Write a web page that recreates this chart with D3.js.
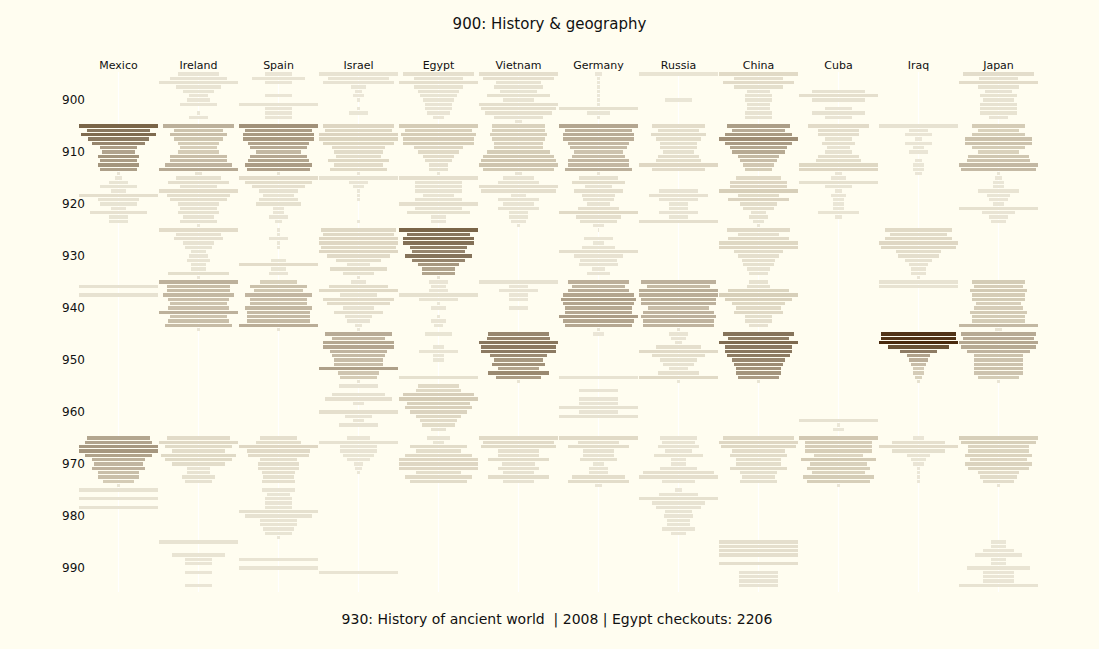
<!DOCTYPE html>
<html>
<head>
<meta charset="utf-8">
<script src="https://cdn.jsdelivr.net/npm/d3@7"></script>
<style>
  html, body { margin: 0; padding: 0; background: #fffdf0; }
  svg { display: block; font-family: "DejaVu Sans", sans-serif; }
</style>
</head>
<body>
<div id="chart"></div>
<script>
// Dewey 900s checkouts per country: each decade block holds 12 years (2006-2017)
const countries = ["Mexico", "Ireland", "Spain", "Israel", "Egypt", "Vietnam",
                   "Germany", "Russia", "China", "Cuba", "Iraq", "Japan"];
const decades = [900, 910, 920, 930, 940, 950, 960, 970, 980, 990];
const decadeNames = ["History & geography", "Geography & travel", "Biography & genealogy",
  "History of ancient world ", "History of Europe", "History of Asia", "History of Africa",
  "History of North America", "History of South America", "History of other areas"];
const years = [2006, 2007, 2008, 2009, 2010, 2011, 2012, 2013, 2014, 2015, 2016, 2017];

// peak checkouts of each decade block (900 ... 990), per country
const peaks = [
  [0, 2430, 150, 0, 100, 0, 0, 1250, 80, 0],        // Mexico
  [100, 950, 200, 200, 850, 0, 0, 280, 0, 80],      // Ireland
  [80, 1350, 200, 200, 900, 0, 0, 300, 120, 60],    // Spain
  [80, 350, 100, 300, 250, 1100, 150, 100, 0, 60],  // Israel
  [150, 500, 150, 2424, 120, 120, 500, 300, 0, 0],  // Egypt
  [150, 600, 150, 0, 100, 2000, 0, 250, 0, 0],      // Vietnam
  [120, 1000, 250, 150, 1150, 80, 100, 250, 0, 0],  // Germany
  [60, 300, 150, 0, 900, 250, 0, 150, 120, 0],      // Russia
  [250, 1400, 450, 300, 450, 2300, 0, 300, 0, 150], // China
  [150, 300, 120, 0, 0, 0, 100, 550, 0, 0],         // Cuba
  [0, 100, 0, 300, 80, 3800, 0, 200, 0, 0],         // Iraq
  [200, 750, 120, 0, 750, 1000, 0, 450, 0, 80]      // Japan
];

// yearly checkouts as % of the block peak (one row of 12 years per decade)
const mexico = [
  [0,0,0,0,0,0,0,0,0,0,0,0],
  [100,81,94,78,66,48,43,53,48,53,46,3],
  [8,25,46,18,100,53,46,18,73,25,25,0],
  [0,0,0,0,0,0,0,0,0,0,0,0],
  [0,100,0,100,0,0,0,0,0,0,0,0],
  [0,0,0,0,0,0,0,0,0,0,0,0],
  [0,0,0,0,0,0,0,0,0,0,0,0],
  [81,84,99,100,86,68,63,66,53,53,40,3],
  [100,0,100,0,100,0,0,0,0,0,0,0],
  [0,0,0,0,0,0,0,0,0,0,0,0]
];
const ireland = [
  [52,71,100,58,40,23,28,46,0,5,23,0],
  [91,63,71,61,53,48,53,71,73,86,100,8],
  [58,76,48,100,81,71,51,48,53,40,48,3],
  [100,56,63,40,33,20,23,30,20,20,78,5],
  [100,81,81,89,76,71,76,100,71,78,84,3],
  [0,0,0,0,0,0,0,0,0,0,0,0],
  [0,0,0,0,0,0,0,0,0,0,0,0],
  [81,100,84,68,94,86,66,30,28,43,35,0],
  [0,0,0,0,0,0,0,0,0,0,0,0],
  [100,0,0,66,33,33,0,33,0,0,33,0]
];
const spain = [
  [33,66,33,0,0,33,0,100,33,33,33,0],
  [100,86,89,89,78,71,56,73,76,86,81,5],
  [100,84,66,49,40,49,58,15,15,24,8,0],
  [5,3,23,3,3,0,0,19,100,19,25,0],
  [48,71,63,86,73,71,84,81,81,81,100,5],
  [0,0,0,0,0,0,0,0,0,0,0,0],
  [0,0,0,0,0,0,0,0,0,0,0,0],
  [48,56,100,81,76,48,53,51,43,40,43,0],
  [43,28,35,35,33,100,84,46,46,38,33,3],
  [0,0,0,0,100,0,100,0,0,0,0,0]
];
const israel = [
  [100,76,89,20,10,13,3,0,3,25,0,0],
  [91,84,100,99,89,66,61,56,78,63,73,3],
  [100,23,13,3,3,3,0,0,0,0,3,0],
  [96,91,100,100,94,100,81,58,30,71,38,3],
  [20,75,100,46,91,81,38,61,35,28,10,5],
  [84,68,89,91,73,66,63,63,100,53,46,3],
  [49,0,66,84,15,0,100,33,15,49,0,0],
  [30,100,48,48,38,30,11,8,5,0,0,0],
  [0,0,0,0,0,0,0,0,0,0,0,0],
  [0,0,0,0,0,0,0,100,0,0,0,0]
];
const egypt = [
  [89,63,100,61,51,46,38,35,35,30,15,0],
  [100,84,96,91,89,61,51,40,33,25,23,3],
  [100,59,59,59,39,59,100,59,80,19,19,0],
  [100,81,91,89,73,66,86,66,51,43,43,3],
  [24,18,24,100,49,5,18,0,5,18,11,0],
  [33,0,0,15,49,15,15,0,0,0,100,0],
  [51,56,91,100,81,84,73,58,46,43,20,0],
  [28,13,71,56,86,100,100,100,56,86,71,0],
  [0,0,0,0,0,0,0,0,0,0,0,0],
  [0,0,0,0,0,0,0,0,0,0,0,0]
];
const vietnam = [
  [100,89,56,63,46,81,40,100,96,86,63,8],
  [66,68,71,68,61,63,81,91,96,100,89,8],
  [40,53,100,94,20,53,40,53,25,25,20,5],
  [0,0,0,0,0,0,0,0,0,0,0,0],
  [100,24,49,24,24,0,24,0,0,0,0,0],
  [78,81,100,94,94,73,61,68,51,76,58,3],
  [0,0,0,0,0,0,0,0,0,0,0,0],
  [100,89,96,53,51,76,43,53,38,78,38,0],
  [0,0,0,0,0,0,0,0,0,0,0,0],
  [0,0,0,0,0,0,0,0,0,0,0,0]
];
const germany = [
  [8,5,5,5,5,3,5,5,100,28,3,0],
  [100,84,91,89,76,71,61,68,76,76,86,3],
  [49,68,35,61,43,40,30,53,100,58,46,13],
  [1,0,37,14,42,100,62,47,49,16,29,0],
  [76,68,78,89,96,89,84,86,100,89,86,3],
  [13,0,0,0,0,0,0,0,0,0,100,0],
  [0,49,0,49,49,100,49,100,0,0,0,0],
  [100,53,78,40,40,46,15,25,25,68,76,10],
  [0,0,0,0,0,0,0,0,0,0,0,0],
  [0,0,0,0,0,0,0,0,0,0,0,0]
];
const russia = [
  [100,0,0,0,0,0,33,0,0,0,0,0],
  [68,51,70,58,46,48,40,53,58,100,66,0],
  [0,0,0,49,75,49,24,24,49,24,100,0],
  [0,0,0,0,0,0,0,0,0,0,0,0],
  [94,81,99,100,96,94,76,91,94,91,91,5],
  [23,20,10,58,99,68,46,40,25,53,100,5],
  [0,0,0,0,0,0,0,0,0,0,0,0],
  [48,43,51,33,61,20,18,48,89,100,43,0],
  [8,49,100,68,58,33,37,30,28,43,18,0],
  [0,0,0,0,0,0,0,0,0,0,0,0]
];
const china = [
  [100,61,89,63,28,35,35,30,28,33,33,0],
  [81,66,86,100,84,71,68,53,48,40,35,0],
  [56,71,71,100,53,78,46,38,20,23,15,3],
  [81,51,76,99,100,61,51,43,38,30,25,0],
  [23,30,76,100,86,66,58,61,35,33,25,0],
  [89,78,100,84,86,81,68,63,58,56,51,3],
  [0,0,0,0,0,0,0,0,0,0,0,0],
  [91,100,96,68,71,56,56,71,46,43,46,0],
  [0,0,0,0,0,0,0,0,0,0,0,0],
  [100,100,100,100,0,100,0,49,49,49,49,0]
];
const cuba = [
  [0,0,0,0,66,100,66,0,33,66,33,0],
  [76,53,53,35,43,28,33,51,56,99,100,8],
  [18,100,33,10,18,13,13,13,51,10,0,0],
  [0,0,0,0,0,0,0,0,0,0,0,0],
  [0,0,0,0,0,0,0,0,0,0,0,0],
  [0,0,0,0,0,0,0,0,0,0,0,0],
  [0,0,0,0,0,0,0,0,100,5,13,0],
  [100,86,86,84,61,94,73,81,68,89,81,5],
  [0,0,0,0,0,0,0,0,0,0,0,0],
  [0,0,0,0,0,0,0,0,0,0,0,0]
];
const iraq = [
  [0,0,0,0,0,0,0,0,0,0,0,0],
  [100,24,33,8,33,15,24,0,8,15,15,8],
  [0,0,0,0,0,0,0,0,0,0,0,0],
  [86,71,86,100,96,58,53,33,25,18,19,3],
  [100,100,0,0,0,0,0,0,0,0,0,0],
  [94,94,100,76,48,28,23,18,13,13,10,3],
  [0,0,0,0,0,0,0,0,0,0,0,0],
  [13,66,100,68,30,20,13,5,3,5,5,0],
  [0,0,0,0,0,0,0,0,0,0,0,0],
  [0,0,0,0,0,0,0,0,0,0,0,0]
];
const japan = [
  [91,49,100,53,35,46,40,48,46,46,23,0],
  [66,53,68,84,84,68,53,76,81,100,96,5],
  [10,13,15,53,28,25,15,100,43,25,18,0],
  [0,0,0,0,0,0,0,0,0,0,0,0],
  [68,63,71,66,68,58,63,71,68,68,100,8],
  [94,91,100,94,81,63,61,61,63,61,51,5],
  [0,0,0,0,0,0,0,0,0,0,0,0],
  [100,96,78,76,84,71,84,76,51,46,40,5],
  [0,0,0,0,0,0,0,0,0,0,0,0],
  [19,19,39,59,19,19,80,39,39,39,100,0]
];
const shares = [mexico, ireland, spain, israel, egypt, vietnam,
                germany, russia, china, cuba, iraq, japan];

// the readout shown under the chart
const picked = { country: "Egypt", decade: 930, year: 2008 };

const width = 1099, height = 649;

const rows = [];
countries.forEach((c, ci) => {
  decades.forEach((d, di) => {
    years.forEach((yr, yi) => {
      const share = shares[ci][di][yi];
      rows.push({
        country: c, decade: d, year: yr, share: share,
        value: share / 100 * peaks[ci][di],
        slot: di * years.length + yi
      });
    });
  });
});

const svg = d3.select("#chart").append("svg")
  .attr("width", width)
  .attr("height", height);

svg.append("rect")
  .attr("width", width).attr("height", height)
  .attr("fill", "#fffdf0");

const x = d3.scaleBand().domain(countries).range([78.5, 1038.5]);
const y = d3.scaleBand().domain(d3.range(decades.length * years.length)).range([72.2, 592.2]);
const yDec = d3.scaleBand().domain(decades).range([72.2, 592.2]);
const w = d3.scaleLinear().domain([0, 100]).range([0, x.bandwidth() - 1]);

// colour follows the absolute checkouts (sqrt)
const tone = d3.scaleSqrt().domain([0, 3800]).range([0, 1]).clamp(true);
const ramp = d3.scaleLinear()
  .domain([0, 0.15, 0.27, 0.37, 0.46, 0.53, 0.62, 0.74, 0.8, 0.9, 1])
  .range(["#ece8d9", "#e8e3d2", "#e0d9c5", "#d4cbb5", "#c0b49f", "#b0a28b",
          "#9c8b73", "#85735a", "#7a6548", "#62492d", "#4a2a0e"]);
const color = v => ramp(tone(v));

// faint centre stems
svg.append("g").selectAll("line")
  .data(countries)
  .join("line")
  .attr("x1", d => x(d) + x.bandwidth() / 2)
  .attr("x2", d => x(d) + x.bandwidth() / 2)
  .attr("y1", 72).attr("y2", 592)
  .attr("stroke", "#ffffff")
  .attr("stroke-width", 1.2);

svg.append("g").selectAll("rect")
  .data(rows.filter(d => d.share > 0))
  .join("rect")
  .attr("x", d => x(d.country) + x.bandwidth() / 2 - w(d.share) / 2)
  .attr("y", d => y(d.slot))
  .attr("width", d => Math.max(1, w(d.share)))
  .attr("height", y.step() - 1)
  .attr("fill", d => color(d.value))
  .style("shape-rendering", "crispEdges");

// titles and axes
svg.append("text")
  .attr("x", width / 2).attr("y", 29)
  .attr("text-anchor", "middle")
  .style("font-size", "15px").style("fill", "#111")
  .text(`${decades[0]}: ${decadeNames[0]}`);

const axisTop = svg.append("g")
  .attr("transform", "translate(0,72)")
  .call(d3.axisTop(x).tickSize(0).tickPadding(3));
axisTop.select(".domain").remove();
axisTop.selectAll("text").style("font-size", "11px").style("fill", "#111")
  .style("font-family", "DejaVu Sans, sans-serif");

const axisLeft = svg.append("g")
  .attr("transform", "translate(87,2)")
  .call(d3.axisLeft(yDec).tickSize(0).tickPadding(2));
axisLeft.select(".domain").remove();
axisLeft.selectAll("text").style("font-size", "12px").style("fill", "#111")
  .style("font-family", "DejaVu Sans, sans-serif");

const p = rows.find(d => d.country === picked.country && d.decade === picked.decade && d.year === picked.year);
const pName = decadeNames[decades.indexOf(p.decade)];
svg.append("text")
  .attr("x", 557).attr("y", 624)
  .attr("text-anchor", "middle")
  .attr("xml:space", "preserve")
  .style("white-space", "pre")
  .style("font-size", "14px").style("fill", "#111")
  .text(`${p.decade}: ${pName} | ${p.year} | ${p.country} checkouts: ${Math.round(p.value)}`);
</script>
</body>
</html>
